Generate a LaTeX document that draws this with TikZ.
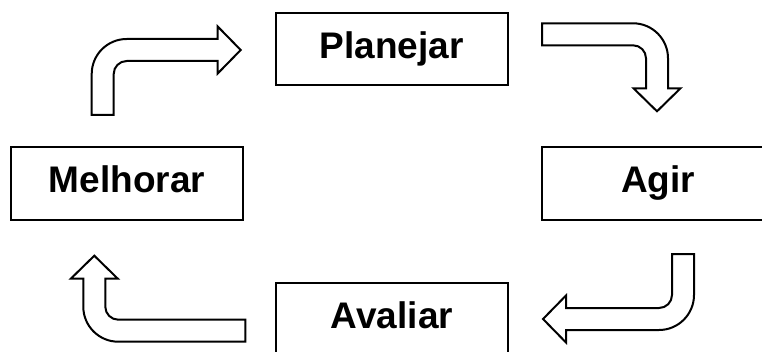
\documentclass[tikz,border=0pt]{standalone}
\usepackage{fontspec}
\setmainfont{Liberation Sans}
\tikzset{
  stagebox/.style={draw=black, line width=2pt, fill=white,
    minimum width=232pt, minimum height=72pt, inner sep=0pt,
    text height=26.6pt, text depth=7.8pt,
    font=\fontsize{37}{44}\selectfont\bfseries},
  bentshape/.style={draw=black, line width=2pt, fill=white, line join=miter}
}
% Bent block arrow: #1 bend centre, #2 rotation, #3 tail length, #4 length to the head
\newcommand{\bentarrow}[4]{%
  \draw[bentshape, shift={#1}, rotate=#2]
    (-35,-#3) -- (-35,0) arc[start angle=180, end angle=90, radius=35]
    -- (#4,35) -- (#4,47.5) -- ({#4+23},24) -- (#4,0.5) -- (#4,13)
    -- (0,13) arc[start angle=90, end angle=180, radius=13]
    -- (-13,-#3) -- cycle;}
\begin{document}
\begin{tikzpicture}[x=1pt, y=1pt]
  \useasboundingbox (0,0) rectangle (762,351);
  \clip (0,0) rectangle (762,351);
  \fill[white] (0,0) rectangle (762,351);

  \node[stagebox] (plan) at (391.5,302)  {Planejar};
  \node[stagebox] (agir) at (658,167.5)  {Agir};
  \node[stagebox] (aval) at (392,32.4)   {Avaliar};
  \node[stagebox] (melh) at (127,167.5)  {Melhorar};

  % cycle arrows, turning clockwise
  \bentarrow{(126.7,277)}{0}{41}{91}
  \bentarrow{(633,292.7)}{-90}{91}{30}
  \bentarrow{(659,56)}{-180}{41}{93}
  \bentarrow{(118.3,44.3)}{90}{127}{28}
\end{tikzpicture}
\end{document}
